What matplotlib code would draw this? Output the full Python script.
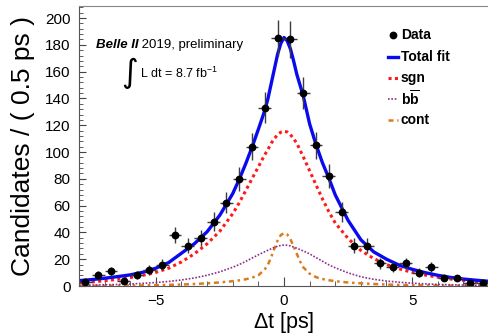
import numpy as np
import matplotlib
matplotlib.use('Agg')
import matplotlib.pyplot as plt
from matplotlib.ticker import MultipleLocator

plt.rcParams['font.family'] = ['Liberation Sans', 'DejaVu Sans']
plt.rcParams['mathtext.fontset'] = 'custom'
plt.rcParams['mathtext.rm'] = 'Liberation Sans'
plt.rcParams['mathtext.bf'] = 'Liberation Sans:bold'
plt.rcParams['mathtext.it'] = 'Liberation Sans:italic'

# data histogram (0.5 ps bins)
t_bins = [-7.75, -7.25, -6.75, -6.25, -5.75, -5.25, -4.75, -4.25,
          -3.75, -3.25, -2.75, -2.25, -1.75, -1.25, -0.75, -0.25,
          0.25, 0.75, 1.25, 1.75, 2.25, 2.75, 3.25, 3.75,
          4.25, 4.75, 5.25, 5.75, 6.25, 6.75, 7.25, 7.75]
counts = [3, 8, 11, 4, 8, 12, 16, 38,
          30, 36, 48, 62, 80, 104, 133, 185,
          184, 144, 105, 82, 55, 30, 30, 17,
          14, 17, 10, 14, 6, 6, 2, 2]

# fit curves
t_fit = [-8, -7.5, -7, -6.5, -6, -5.5, -5, -4.5, -4, -3.5, -3, -2.5, -2,
         -1.75, -1.5, -1.25, -1, -0.75, -0.625, -0.5, -0.375, -0.25, -0.125,
         0, 0.125, 0.25, 0.375, 0.5, 0.625, 0.75, 1, 1.25, 1.5, 1.75, 2,
         2.5, 3, 3.5, 4, 4.5, 5, 5.5, 6, 6.5, 7, 7.5, 8]
fit_total = [4, 4.8, 5.8, 7, 8.3, 10.3, 13.3, 17.5, 24.5, 31.5, 40.5, 53, 69,
             79.5, 91, 103.5, 117, 131, 140, 151, 162, 173, 181,
             185.5, 183, 177, 168, 158, 150, 142, 121, 105.5, 92, 80.5, 68,
             49, 34.5, 25.5, 20, 15.5, 12.5, 10, 8, 6.4, 5.2, 4.3, 3.5]
fit_sgn = [2.3, 3.0, 3.9, 5.0, 6.3, 8.0, 10.2, 13.3, 18.0, 24.0, 31.5, 41, 54,
           62, 71, 80, 89, 98, 102, 106.5, 110, 113, 114.8,
           115.5, 115, 113, 110, 106.5, 101.5, 96.5, 86, 75.5, 65, 55.5, 47,
           35.5, 26.5, 20.5, 16, 12.8, 10.2, 8.2, 6.6, 5.2, 4.1, 3.2, 2.5]
fit_bb = [0.5, 0.65, 0.9, 1.15, 1.5, 2.0, 2.6, 3.4, 4.5, 6.0, 8.0, 10.6, 14,
          16, 18.3, 20.8, 23.3, 25.6, 26.7, 27.8, 28.8, 29.7, 30.3,
          30.6, 30.4, 29.9, 29.1, 28.2, 27.2, 26.2, 24, 21.2, 18.5, 15.8, 13.6,
          9.8, 6.9, 5.0, 3.7, 2.8, 2.1, 1.6, 1.2, 0.9, 0.7, 0.5, 0.4]
fit_cont = [0.1, 0.15, 0.2, 0.25, 0.35, 0.45, 0.6, 0.85, 1.1, 1.5, 2.0, 2.7, 3.6,
            4.2, 5.0, 6.2, 8.0, 12.5, 16, 21.5, 28, 34, 38,
            39.5, 38.5, 35, 29.5, 24, 18.5, 14, 9.2, 6.6, 5.2, 4.3, 3.6,
            2.6, 2.0, 1.5, 1.1, 0.8, 0.6, 0.45, 0.35, 0.25, 0.2, 0.15, 0.1]

legend_labels = ['Data', 'Total fit', 'sgn', r'$\mathbf{b}\overline{\mathbf{b}}$', 'cont']

c_tot = '#0a0aee'
c_sgn = '#ff1a1a'
c_bb = '#8c2d8c'
c_cont = '#dd7a1c'
ls_sgn = (0, (1, 1.1))
ls_bb = (0, (1, 1))
ls_cont = (0, (2, 1.5, 1, 1.5))

fig = plt.figure(figsize=(4.89, 3.36), dpi=100)
ax = fig.add_axes([79 / 489, 50 / 336, 410 / 489, 280 / 336])

ax.plot(t_fit, fit_cont, color=c_cont, lw=1.8, ls=ls_cont)
ax.plot(t_fit, fit_bb, color=c_bb, lw=1.2, ls=ls_bb)
ax.plot(t_fit, fit_sgn, color=c_sgn, lw=2.2, ls=ls_sgn)
ax.plot(t_fit, fit_total, color=c_tot, lw=2.4)
ax.errorbar(t_bins, counts, yerr=np.sqrt(counts), xerr=0.25, fmt='o',
            color='black', ms=4.6, ecolor='#3c3c3c', elinewidth=1.0, capsize=0)

ax.set_xlim(-8, 8)
ax.set_ylim(0, 209)
ax.xaxis.set_major_locator(MultipleLocator(5))
ax.xaxis.set_minor_locator(MultipleLocator(1))
ax.yaxis.set_major_locator(MultipleLocator(20))
ax.yaxis.set_minor_locator(MultipleLocator(4))
ax.tick_params(which='both', direction='in', top=False, right=False,
               color='#444444', labelsize=11, pad=6)
ax.tick_params(axis='x', which='major', length=6.5)
ax.tick_params(axis='x', which='minor', length=3.3)
ax.tick_params(axis='y', which='major', length=5.2)
ax.tick_params(axis='y', which='minor', length=3)
for s in ['left', 'bottom']:
    ax.spines[s].set_color('#555555')
ax.spines['top'].set_color('#888888')
ax.spines['right'].set_visible(False)

ax.set_xlabel(r'$\Delta$t [ps]', fontsize=15.5, labelpad=1)
ax.set_ylabel('Candidates / ( 0.5 ps )', fontsize=19, labelpad=7)

t1 = ax.text(0.041, 0.85, 'Belle II', transform=ax.transAxes, fontsize=9.5,
             weight='bold', style='italic', va='baseline')
ax.annotate(' 2019, preliminary', xy=(1, 0), xycoords=t1, fontsize=9.5,
            va='bottom', ha='left')
ax.text(0.124, 0.76, '\u222b', transform=ax.transAxes, family='DejaVu Sans',
        fontsize=23, ha='center', va='center')
ax.text(0.149, 0.743, r'L dt = 8.7 fb$^{-1}$', transform=ax.transAxes,
        fontsize=9, va='baseline')

# legend, drawn by hand to match the row spacing
rows = [0.896, 0.818, 0.743, 0.668, 0.593]
ax.plot([0.766], [rows[0]], 'o', color='black', ms=4.6, transform=ax.transAxes, clip_on=False)
ax.plot([0.753, 0.779], [rows[1]] * 2, color=c_tot, lw=2.4, transform=ax.transAxes, clip_on=False)
ax.plot([0.753, 0.779], [rows[2]] * 2, color=c_sgn, lw=2.2, ls=ls_sgn, transform=ax.transAxes, clip_on=False)
ax.plot([0.753, 0.779], [rows[3]] * 2, color=c_bb, lw=1.2, ls=ls_bb, transform=ax.transAxes, clip_on=False)
ax.plot([0.753, 0.779], [rows[4]] * 2, color=c_cont, lw=1.8, ls=ls_cont, transform=ax.transAxes, clip_on=False)
for y, lab in zip(rows, legend_labels):
    ax.text(0.785, y, lab, transform=ax.transAxes, fontsize=10, weight='bold',
            va='center', ha='left')

fig.savefig('out.png', dpi=100)
